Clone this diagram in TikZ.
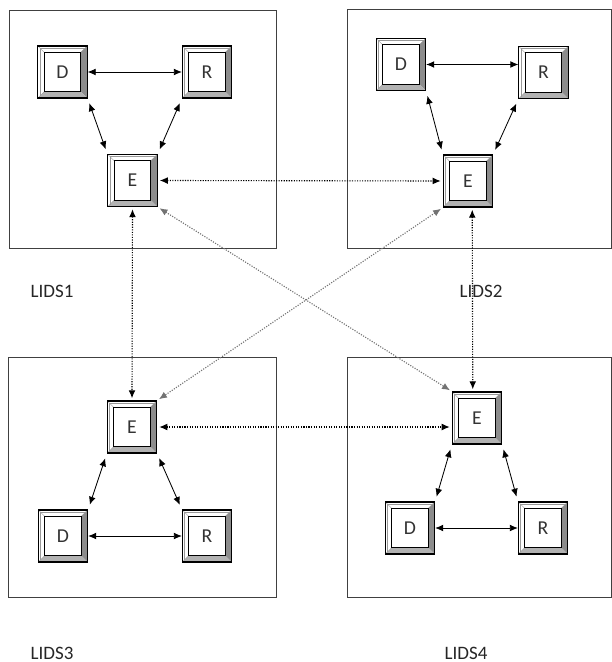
\documentclass[tikz,border=0pt]{standalone}
\usepackage{fontspec}
\setmainfont{Carlito}
\usetikzlibrary{arrows.meta}

% width of the bevel round each key
\newcommand{\bev}{0.16cm}

\begin{document}
\begin{tikzpicture}[
    x=0.025cm, y=-0.025cm,
    >={Latex[length=2mm, width=1.7mm]},
    ldsbox/.style={draw=black!75, line width=0.6pt},
    keybox/.style={draw=black, line width=0.8pt, fill=white, inner sep=0pt,
        minimum width=1.23cm, minimum height=1.3cm,
        font=\fontsize{14}{16}\selectfont, text=black!80,
        path picture={
            \path (path picture bounding box.south west) coordinate (sw)
                  (path picture bounding box.north east) coordinate (ne)
                  (path picture bounding box.south east) coordinate (se)
                  (path picture bounding box.north west) coordinate (nw);
            \fill[black!45] (ne) -- (se) -- ([shift={(-\bev,\bev)}]se) -- ([shift={(-\bev,-\bev)}]ne) -- cycle;
            \fill[black!30] (sw) -- (se) -- ([shift={(-\bev,\bev)}]se) -- ([shift={(\bev,\bev)}]sw) -- cycle;
            \draw[black!40, line width=0.3pt] ([shift={(1.3pt,1.3pt)}]sw) |- ([shift={(-1.3pt,-1.3pt)}]ne);
            \draw[black!40, line width=0.3pt] (nw) -- ([shift={(\bev,-\bev)}]nw)
                                              (ne) -- ([shift={(-\bev,-\bev)}]ne)
                                              (sw) -- ([shift={(\bev,\bev)}]sw);
            \draw[black, line width=0.8pt, fill=white] ([shift={(\bev,\bev)}]sw) rectangle ([shift={(-\bev,-\bev)}]ne);
        }},
    link/.style={<->, line width=0.6pt},
    peer/.style={<->, densely dotted, line width=0.8pt, shorten <=1.5pt, shorten >=1.5pt},
    cross/.style={<->, densely dotted, line width=0.8pt, black!55, shorten <=1.5pt, shorten >=1.5pt},
    lbl/.style={font=\fontsize{13.5}{15}\selectfont, text=black!85}
]
    \useasboundingbox (0,0) rectangle (611,662);

    % the four LIDS areas
    \draw[ldsbox] (9,10) rectangle (276,248);
    \draw[ldsbox] (347,9) rectangle (611,248);
    \draw[ldsbox] (8,357) rectangle (276,597);
    \draw[ldsbox] (347,357) rectangle (611,597);

    % keys
    \node[keybox] (d1) at (62.5,72) {D};
    \node[keybox] (r1) at (207,72) {R};
    \node[keybox] (e1) at (132.5,180.5) {E};

    \node[keybox] (d2) at (401,64.5) {D};
    \node[keybox] (r2) at (543.5,72.5) {R};
    \node[keybox] (e2) at (468,181) {E};

    \node[keybox] (e3) at (132,427) {E};
    \node[keybox] (d3) at (63,536) {D};
    \node[keybox] (r3) at (207,536) {R};

    \node[keybox] (e4) at (477,418) {E};
    \node[keybox] (d4) at (410,528) {D};
    \node[keybox] (r4) at (543,528) {R};

    % labels
    \node[lbl] (lids1) at (52,291) {LIDS1};
    \node[lbl] (lids2) at (481,291) {LIDS2};
    \node[lbl] (lids3) at (52,653) {LIDS3};
    \node[lbl] (lids4) at (466,653) {LIDS4};

    % links inside each area
    \draw[link] (d1.east) -- (r1.west);
    \draw[link, shorten <=3.5pt, shorten >=3.5pt] (d1.south east) -- (e1.north west);
    \draw[link, shorten <=3.5pt, shorten >=3.5pt] (r1.south west) -- (e1.north east);

    \draw[link] (d2.east) -- (d2.east -| r2.west);
    \draw[link, shorten <=3.5pt, shorten >=3.5pt] (d2.south east) -- (e2.north west);
    \draw[link, shorten <=3.5pt, shorten >=3.5pt] (r2.south west) -- (e2.north east);

    \draw[link] (d3.east) -- (r3.west);
    \draw[link, shorten <=3.5pt, shorten >=3.5pt] (e3.south west) -- (d3.north east);
    \draw[link, shorten <=3.5pt, shorten >=3.5pt] (e3.south east) -- (r3.north west);

    \draw[link] (d4.east) -- (r4.west);
    \draw[link, shorten <=3.5pt, shorten >=3.5pt] (e4.south west) -- (d4.north east);
    \draw[link, shorten <=3.5pt, shorten >=3.5pt] (e4.south east) -- (r4.north west);

    % links between the E keys
    \draw[peer] (e1.east) -- (e2.west);
    \draw[peer] (e1.south) -- (e3.north);
    \draw[peer] ([xshift=3pt]e2.south) -- ([xshift=-3pt]e4.north);
    \draw[peer] (e3.east) -- (e3.east -| e4.west);
    \draw[cross] (e1.south east) -- (e4.north west);
    \draw[cross] (e2.south west) -- (e3.north east);
\end{tikzpicture}
\end{document}
